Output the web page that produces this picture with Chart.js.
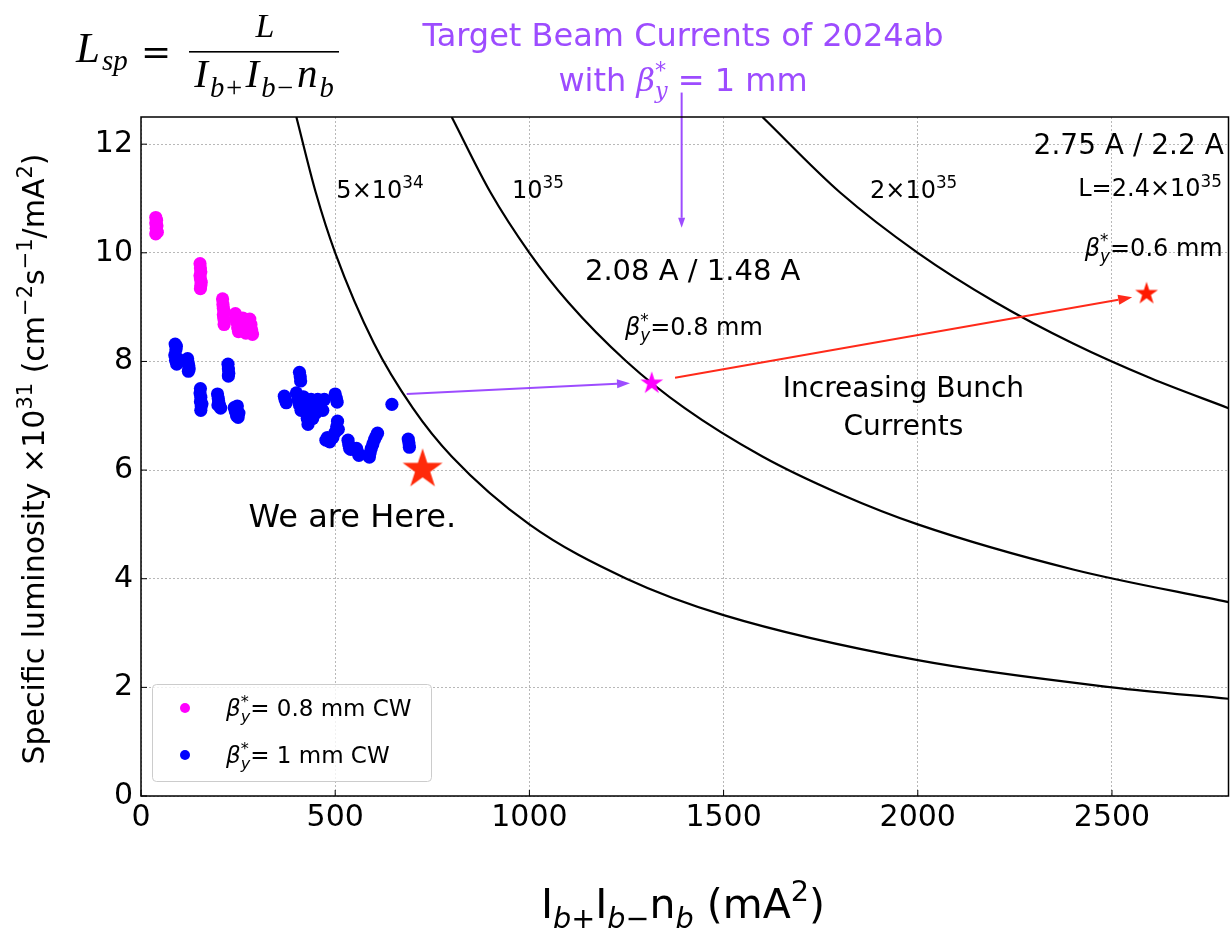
<!DOCTYPE html>
<html>
<head>
<meta charset="utf-8">
<script src="https://cdn.jsdelivr.net/npm/chart.js@4.4.1/dist/chart.umd.min.js"></script>
<style>
  html, body { margin: 0; padding: 0; background: #fff; }
  canvas { display: block; }
</style>
</head>
<body>
<canvas id="chartLsp" width="1230" height="928"></canvas>
<script>
// tick values
const xTicks = [0, 500, 1000, 1500, 2000, 2500];
const yTicks = [0, 2, 4, 6, 8, 10, 12];

// beta_y* = 0.8 mm CW
const magentaX = [38, 40, 38, 41, 39, 40, 38, 42,
  152, 153, 154, 152, 153, 155, 154, 153,
  210, 211, 212, 214, 212, 213, 215, 214,
  243, 245, 247, 249, 251, 258, 262, 265, 268, 270, 275, 280, 283, 285, 287];
const magentaY = [10.65, 10.6, 10.55, 10.5, 10.45, 10.4, 10.35, 10.38,
  9.8, 9.72, 9.65, 9.58, 9.52, 9.46, 9.4, 9.34,
  9.15, 9.05, 8.98, 8.92, 8.86, 8.8, 8.74, 8.68,
  8.88, 8.8, 8.72, 8.62, 8.55, 8.75, 8.8, 8.7, 8.6, 8.52, 8.65, 8.78, 8.68, 8.58, 8.5];

// beta_y* = 1 mm CW
const blueX = [88, 90, 87, 89, 92, 95, 91, 94,
  120, 121, 123, 124, 122,
  153, 152, 154, 153, 155, 154, 157,
  197, 199, 200, 203, 205, 198,
  224, 225, 226, 225,
  240, 243, 246, 250, 252, 248,
  369, 371, 374, 408, 410, 411,
  400, 404, 408, 412, 418, 424, 426, 428, 430, 438, 445, 450, 442, 455, 462, 468, 472,
  500, 503, 505,
  476, 480, 486, 494, 500, 504, 506, 508,
  533, 535, 537, 540,
  555, 558, 561,
  588, 590, 593, 597, 601, 605, 609,
  646,
  688, 690, 691];
const blueY = [8.32, 8.22, 8.12, 8.02, 7.95, 8.05, 8.28, 7.98,
  8.05, 7.98, 7.92, 7.86, 7.82,
  7.5, 7.42, 7.34, 7.26, 7.18, 7.1, 7.22,
  7.4, 7.32, 7.25, 7.18, 7.14, 7.2,
  7.95, 7.86, 7.78, 7.73,
  7.15, 7.08, 7.0, 6.97, 7.05, 7.18,
  7.36, 7.3, 7.24, 7.8, 7.72, 7.64,
  7.42, 7.3, 7.2, 7.1, 7.35, 7.22, 7.08, 6.95, 6.84, 7.3, 7.15, 7.05, 6.95, 7.3, 7.22, 7.1, 7.3,
  7.4, 7.32, 7.25,
  6.55, 6.6, 6.52, 6.6, 6.7, 6.8, 6.9, 6.75,
  6.55, 6.47, 6.4, 6.38,
  6.4, 6.33, 6.27,
  6.24, 6.32, 6.4, 6.48, 6.56, 6.62, 6.68,
  7.21,
  6.57, 6.5, 6.42];

// constant luminosity lines
const curve5e34X = [400, 450, 500, 600, 700, 800, 1000, 1250, 1500, 2000, 2500, 2800];
const curve5e34Y = [12.5, 11.11, 10, 8.33, 7.14, 6.25, 5, 4, 3.33, 2.5, 2, 1.79];
const curve1e35X = [800, 900, 1000, 1100, 1250, 1400, 1600, 1800, 2000, 2400, 2800];
const curve1e35Y = [12.5, 11.11, 10, 9.09, 8, 7.14, 6.25, 5.56, 5, 4.17, 3.57];
const curve2e35X = [1600, 1800, 2000, 2200, 2400, 2600, 2800];
const curve2e35Y = [12.5, 11.11, 10, 9.09, 8.33, 7.69, 7.14];

// stars
const hereStar = [725, 6.05];
const target08Star = [1315, 7.62];
const target06Star = [2589, 9.27];

// arrows [start, end]
const purpleArrow = [[684, 7.40], [1259, 7.60]];
const redArrow = [[1375, 7.70], [2552, 9.18]];
const downArrow = [[1392, 12.95], [1392, 10.46]];

const SANS = "'DejaVu Sans', sans-serif";
const SERIF = "'DejaVu Serif', serif";
const PURPLE = '#9d4cff';

const toXY = (xs, ys) => xs.map((x, i) => ({ x: x, y: ys[i] }));

function starImg(r, color) {
  const c = document.createElement('canvas');
  const s = Math.ceil(r * 2 + 2);
  c.width = s; c.height = s;
  const g = c.getContext('2d');
  g.translate(s / 2, s / 2 + r * 0.1);
  g.beginPath();
  for (let i = 0; i < 10; i++) {
    const rad = i % 2 ? r * 0.382 : r;
    const a = -Math.PI / 2 + i * Math.PI / 5;
    g.lineTo(rad * Math.cos(a), rad * Math.sin(a));
  }
  g.closePath();
  g.fillStyle = color;
  g.fill();
  return c;
}

// text with sub / superscripts: [text, style, 'stay', family]
function segFont(seg, size, fam) {
  const st = seg[1] || '';
  const small = st.indexOf('sup') >= 0 || st.indexOf('sub') >= 0;
  const italic = st.indexOf('i') === 0;
  return (italic ? 'italic ' : '') + (small ? size * 0.7 : size).toFixed(1) + 'px ' + (seg[3] || fam);
}

function drawRich(ctx, segs, x, y, size, opts) {
  opts = opts || {};
  const fam = opts.family || SANS;
  const gap = opts.gap || 0;
  let w = 0, hold = 0;
  const items = [];
  segs.forEach(seg => {
    ctx.font = segFont(seg, size, fam);
    const sw = ctx.measureText(seg[0]).width;
    items.push({ seg: seg, x: w, font: ctx.font });
    if (seg[2] === 'stay') { hold = sw; }
    else { w += Math.max(sw, hold) + gap; hold = 0; }
  });
  w -= gap;
  let x0 = x;
  if (opts.align === 'center') x0 = x - w / 2;
  else if (opts.align === 'right') x0 = x - w;
  const base = y + size * 0.36;
  ctx.fillStyle = opts.color || '#000';
  ctx.textAlign = 'left';
  ctx.textBaseline = 'alphabetic';
  items.forEach(it => {
    const st = it.seg[1] || '';
    let dy = 0;
    if (st.indexOf('sup') >= 0) dy = -size * 0.4;
    if (st.indexOf('sub') >= 0) dy = size * 0.24;
    ctx.font = it.font;
    ctx.fillText(it.seg[0], x0 + it.x, base + dy);
  });
}

function arrow(ctx, x1, y1, x2, y2, color, width, headLen, headW) {
  const a = Math.atan2(y2 - y1, x2 - x1);
  const bx = x2 - headLen * Math.cos(a), by = y2 - headLen * Math.sin(a);
  ctx.save();
  ctx.strokeStyle = color; ctx.fillStyle = color; ctx.lineWidth = width;
  ctx.beginPath(); ctx.moveTo(x1, y1); ctx.lineTo(bx, by); ctx.stroke();
  ctx.beginPath();
  ctx.moveTo(x2, y2);
  ctx.lineTo(bx + headW / 2 * Math.sin(a), by - headW / 2 * Math.cos(a));
  ctx.lineTo(bx - headW / 2 * Math.sin(a), by + headW / 2 * Math.cos(a));
  ctx.closePath(); ctx.fill();
  ctx.restore();
}

const betaY = () => [['β', 'i'], ['*', 'sup', 'stay'], ['y', 'isub']];

// annotations in data coordinates
const notes = [
  { x: 503, y: 11.17, size: 24, segs: [['5×10'], ['34', 'sup']] },
  { x: 955, y: 11.17, size: 24, segs: [['10'], ['35', 'sup']] },
  { x: 1877, y: 11.17, size: 24, segs: [['2×10'], ['35', 'sup']] },
  { x: 1143, y: 9.69, size: 29, segs: [['2.08 A / 1.48 A']] },
  { x: 1246, y: 8.64, size: 24, segs: betaY().concat([['=0.8 mm']]) },
  { x: 1963, y: 7.53, size: 28, align: 'center', segs: [['Increasing Bunch']] },
  { x: 1963, y: 6.83, size: 28, align: 'center', segs: [['Currents']] },
  { x: 277, y: 5.16, size: 32, segs: [['We are Here.']] },
  { x: 2788, y: 12.0, size: 28, align: 'right', segs: [['2.75 A / 2.2 A']] },
  { x: 2783, y: 11.2, size: 24, align: 'right', segs: [['L=2.4×10'], ['35', 'sup']] },
  { x: 2785, y: 10.1, size: 24, align: 'right', segs: betaY().concat([['=0.6 mm']]) }
];

const overlay = {
  id: 'overlay',
  afterDatasetsDraw(chart) {
    const ctx = chart.ctx, sx = chart.scales.x, sy = chart.scales.y;
    const P = p => [sx.getPixelForValue(p[0]), sy.getPixelForValue(p[1])];
    let a = P(purpleArrow[0]), b = P(purpleArrow[1]);
    arrow(ctx, a[0], a[1], b[0], b[1], PURPLE, 2, 13, 9);
    a = P(redArrow[0]); b = P(redArrow[1]);
    arrow(ctx, a[0], a[1], b[0], b[1], '#ff2a1a', 2, 14, 10);
    a = P(downArrow[0]); b = P(downArrow[1]);
    arrow(ctx, a[0], a[1], b[0], b[1], PURPLE, 2, 10, 7);
  },
  afterDraw(chart) {
    const ctx = chart.ctx, sx = chart.scales.x, sy = chart.scales.y, ca = chart.chartArea;
    ctx.save();
    // frame
    ctx.strokeStyle = '#000'; ctx.lineWidth = 1.5;
    ctx.strokeRect(ca.left, ca.top, ca.right - ca.left, ca.bottom - ca.top);
    // inward ticks
    ctx.lineWidth = 1;
    ctx.beginPath();
    xTicks.forEach(v => { const px = sx.getPixelForValue(v); ctx.moveTo(px, ca.bottom); ctx.lineTo(px, ca.bottom - 6); });
    yTicks.forEach(v => { const py = sy.getPixelForValue(v); ctx.moveTo(ca.left, py); ctx.lineTo(ca.left + 6, py); });
    ctx.stroke();

    // annotations
    notes.forEach(n => drawRich(ctx, n.segs, sx.getPixelForValue(n.x), sy.getPixelForValue(n.y), n.size, { align: n.align }));

    // legend
    ctx.fillStyle = 'rgba(255,255,255,0.8)';
    ctx.strokeStyle = '#cccccc'; ctx.lineWidth = 1;
    ctx.beginPath(); ctx.roundRect(152.5, 684.5, 279, 97, 4); ctx.fill(); ctx.stroke();
    const legendRows = [
      { color: chart.data.datasets[4].backgroundColor, y: 708, segs: betaY().concat([['= 0.8 mm CW']]) },
      { color: chart.data.datasets[3].backgroundColor, y: 755, segs: betaY().concat([['= 1 mm CW']]) }
    ];
    legendRows.forEach(r => {
      ctx.fillStyle = r.color;
      ctx.beginPath(); ctx.arc(185, r.y, 5, 0, Math.PI * 2); ctx.fill();
      drawRich(ctx, r.segs, 226, r.y, 23);
    });

    // axis titles
    ctx.save();
    ctx.translate(33, 459); ctx.rotate(-Math.PI / 2);
    drawRich(ctx, [['Specific luminosity ×10'], ['31', 'sup'], [' (cm'], ['−2', 'sup'], ['s'], ['−1', 'sup'], ['/mA'], ['2', 'sup'], [')']], 0, 0, 30, { align: 'center' });
    ctx.restore();
    drawRich(ctx, [['I'], ['b', 'isub'], ['+', 'sub'], ['I'], ['b', 'isub'], ['−', 'sub'], ['n'], ['b', 'isub'], [' (mA'], ['2', 'sup'], [')']], 683, 903, 41, { align: 'center' });

    // title
    drawRich(ctx, [['Target Beam Currents of 2024ab']], 683, 34, 32, { align: 'center', color: PURPLE });
    drawRich(ctx, [['with '], ['β', 'i', '', SERIF], ['*', 'sup', 'stay'], ['y', 'isub', '', SERIF], [' = 1 mm']], 683, 79, 32, { align: 'center', color: PURPLE });

    // formula
    ctx.fillStyle = '#000'; ctx.textAlign = 'left'; ctx.textBaseline = 'alphabetic';
    ctx.font = "italic 43px 'Liberation Serif', serif"; ctx.fillText('L', 76, 62);
    ctx.font = "italic 29px 'Liberation Serif', serif"; ctx.fillText('sp', 102, 70);
    ctx.font = "36px 'DejaVu Serif', serif"; ctx.fillText('=', 141, 64);
    ctx.fillRect(189, 51, 150, 1.6);
    ctx.textAlign = 'center';
    ctx.font = "italic 34px 'Liberation Serif', serif"; ctx.fillText('L', 265, 37);
    drawRich(ctx, [['I', 'i'], ['b+', 'isub'], ['I', 'i'], ['b−', 'isub'], ['n', 'i'], ['b', 'isub']], 264, 72, 41, { align: 'center', family: "'Liberation Serif', serif", gap: 2 });
    ctx.restore();
  }
};

new Chart(document.getElementById('chartLsp'), {
  type: 'scatter',
  data: {
    datasets: [
      { label: 'We are Here', data: [{ x: hereStar[0], y: hereStar[1] }], pointStyle: starImg(21, '#ff2a0a'), pointRadius: 21 },
      { label: '0.6 mm', data: [{ x: target06Star[0], y: target06Star[1] }], pointStyle: starImg(12, '#ff1a00'), pointRadius: 12 },
      { label: '0.8 mm', data: [{ x: target08Star[0], y: target08Star[1] }], pointStyle: starImg(12, '#ff00ff'), pointRadius: 12 },
      { label: '1 mm CW', data: toXY(blueX, blueY), backgroundColor: '#0000ff', borderWidth: 0, pointRadius: 6.6 },
      { label: '0.8 mm CW', data: toXY(magentaX, magentaY), backgroundColor: '#ff00ff', borderWidth: 0, pointRadius: 6.6 },
      { type: 'line', label: '5e34', data: toXY(curve5e34X, curve5e34Y), borderColor: '#000', borderWidth: 2.2, pointRadius: 0, cubicInterpolationMode: 'monotone', fill: false },
      { type: 'line', label: '1e35', data: toXY(curve1e35X, curve1e35Y), borderColor: '#000', borderWidth: 2.2, pointRadius: 0, cubicInterpolationMode: 'monotone', fill: false },
      { type: 'line', label: '2e35', data: toXY(curve2e35X, curve2e35Y), borderColor: '#000', borderWidth: 2.2, pointRadius: 0, cubicInterpolationMode: 'monotone', fill: false }
    ]
  },
  options: {
    responsive: false,
    animation: false,
    events: [],
    layout: { autoPadding: false, padding: { top: 117, right: 1.5, left: 0, bottom: 0 } },
    plugins: { legend: { display: false }, tooltip: { enabled: false }, title: { display: false } },
    scales: {
      x: {
        type: 'linear', min: 0, max: 2800,
        afterBuildTicks: s => { s.ticks = xTicks.map(v => ({ value: v })); },
        afterFit: s => { s.height = 132; s.paddingLeft = 0; s.paddingRight = 0; },
        grid: { color: '#b8b8b8', lineWidth: 1, drawTicks: false },
        border: { display: false, dash: [2, 2] },
        ticks: { padding: 4, color: '#000', font: { family: SANS, size: 30 }, callback: v => String(v) }
      },
      y: {
        type: 'linear', min: 0, max: 12.5,
        afterBuildTicks: s => { s.ticks = yTicks.map(v => ({ value: v })); },
        afterFit: s => { s.width = 141; s.paddingTop = 0; s.paddingBottom = 0; },
        grid: { color: '#b8b8b8', lineWidth: 1, drawTicks: false },
        border: { display: false, dash: [2, 2] },
        ticks: { padding: 8, color: '#000', font: { family: SANS, size: 30 }, callback: v => String(v) }
      }
    }
  },
  plugins: [overlay]
});
</script>
</body>
</html>
